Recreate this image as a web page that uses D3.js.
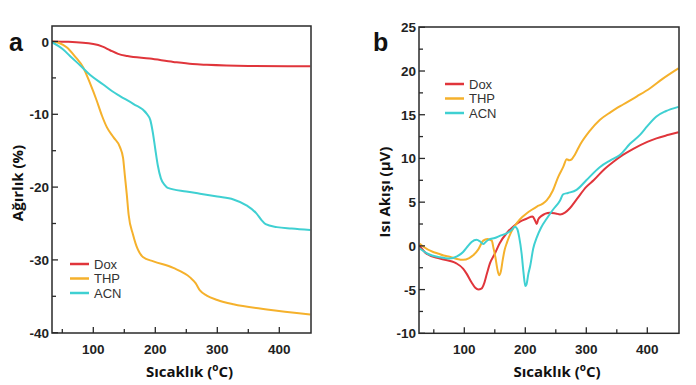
<!DOCTYPE html>
<html>
<head>
<meta charset="utf-8">
<script src="https://cdn.jsdelivr.net/npm/d3@7"></script>
<style>
  body { margin: 0; background: #fff; }
  text { font-family: "Liberation Sans", Arial, sans-serif; }
</style>
</head>
<body>
<div id="viz"></div>
<script>
let w = 696;
let h = 385;

// series names + colours
const names = ["Dox", "THP", "ACN"];
const colors = ["#e0353b", "#f5b12c", "#3fd0d2"];

// panel a: TGA, [temperature, weight %]
const tgaDox = [[33,0],[60,-0.05],[100,-0.35],[115,-0.7],[127,-1.2],[140,-1.7],[155,-2.0],[191,-2.35],[229,-2.8],[260,-3.1],[283,-3.2],[350,-3.35],[450,-3.4]];
const tgaTHP = [[33,0],[45,-0.2],[57,-0.8],[70,-2.0],[84,-3.6],[95,-5.8],[105,-8],[114,-10.2],[122,-11.8],[133,-13.2],[143,-14.5],[148,-16],[151,-18.5],[154,-21],[157,-23.8],[164,-26.5],[172,-28.6],[180,-29.6],[197,-30.2],[229,-31.1],[256,-32.4],[265,-33.2],[272,-34.2],[283,-34.9],[300,-35.5],[326,-36.1],[380,-36.8],[450,-37.5]];
const tgaACN = [[33,-0.1],[50,-1.0],[65,-2.2],[79,-3.3],[95,-4.6],[116,-5.9],[130,-6.8],[143,-7.5],[165,-8.6],[186,-9.9],[192,-10.8],[196,-12.5],[200,-14.8],[204,-17],[209,-18.8],[215,-19.7],[220,-20.1],[250,-20.6],[272,-20.9],[300,-21.3],[326,-21.7],[347,-22.5],[363,-23.6],[372,-24.6],[378,-25.1],[396,-25.5],[420,-25.7],[450,-25.9]];

// panel b: DSC, [temperature, heat flow uV]
const dscDox = [[27,0],[38,-0.9],[60,-1.45],[87,-2.0],[98,-2.6],[104,-3.2],[112,-4.2],[118,-4.8],[123,-5.0],[128,-4.9],[133,-4.2],[137,-3.2],[142,-2.0],[150,-0.9],[158,0.3],[170,1.5],[180,2.2],[192,2.8],[202,3.1],[212,3.35],[216,2.9],[218.7,2.5],[221,3.0],[226,3.4],[240,3.8],[250,3.7],[257,3.6],[265,3.8],[273,4.3],[285,5.4],[300,6.75],[312,7.5],[330,8.8],[344,9.6],[360,10.4],[377,11.1],[400,11.9],[415,12.3],[435,12.7],[451,13.0]];
const dscTHP = [[27,0.25],[33,-0.1],[49,-0.7],[58,-0.9],[66,-1.1],[76,-1.25],[88,-1.5],[98,-1.6],[108,-1.4],[115,-1.05],[123,-0.4],[131,0.6],[138,0.8],[145,0.6],[148,-0.3],[151,-1.3],[154,-2.6],[157,-3.35],[160,-2.9],[163,-1.6],[166,-0.5],[170,0.4],[177,1.6],[186,2.6],[195,3.3],[202,3.7],[210,4.1],[219,4.5],[228,4.8],[235,5.2],[245,6.3],[254,7.9],[262,9.0],[268,9.9],[272,9.8],[276,9.9],[281,10.4],[290,11.6],[305,13.1],[322,14.4],[340,15.3],[361,16.2],[383,17.1],[404,18.0],[425,19.1],[451,20.3]];
const dscACN = [[27,-0.3],[40,-0.9],[60,-1.3],[76,-1.45],[88,-1.2],[98,-0.7],[105,-0.1],[112,0.45],[120,0.7],[126,0.5],[131,0.2],[135,0.45],[140,0.7],[150,0.9],[160,1.2],[170,1.45],[178,1.85],[183,2.2],[187,1.9],[190,1.0],[194,-0.9],[197,-3.0],[200,-4.6],[202,-4.4],[205,-3.2],[208,-2.3],[213,-0.3],[219,1.0],[226,2.1],[235,3.1],[245,4.1],[257,5.2],[262,5.9],[270,6.05],[284,6.4],[300,7.5],[322,9.0],[340,9.8],[355,10.4],[372,11.7],[388,12.7],[400,13.7],[415,14.8],[430,15.4],[451,15.9]];

const xTicks = [100, 200, 300, 400];
const xMinor = [50, 150, 250, 350];
const yTicksA = [0, -10, -20, -30, -40];
const yMinorA = [-5, -15, -25, -35];
const yTicksB = [-10, -5, 0, 5, 10, 15, 20, 25];
const yMinorB = [-7.5, -2.5, 2.5, 7.5, 12.5, 17.5, 22.5];

let viz = d3.select("#viz").append("svg")
  .attr("width", w).attr("height", h)
  .style("background-color", "#ffffff");

function drawPanel(p) {
  let g = viz.append("g");
  let x = d3.scaleLinear().domain([100, 400]).range(p.xr);
  let y = d3.scaleLinear().domain(p.yd).range(p.yr);
  let left = p.box[0], top = p.box[1], right = p.box[2], bottom = p.box[3];

  // lines
  let line = d3.line().x(d => x(d[0])).y(d => y(d[1])).curve(d3.curveMonotoneX);
  g.append("defs").append("clipPath").attr("id", "clip" + p.id)
    .append("rect").attr("x", left).attr("y", top).attr("width", right - left).attr("height", bottom - top);
  let lg = g.append("g").attr("clip-path", `url(#clip${p.id})`);
  p.series.forEach((s, i) => {
    lg.append("path").attr("d", line(s))
      .attr("fill", "none").attr("stroke", colors[i]).attr("stroke-width", 2);
  });

  // frame
  g.append("rect").attr("x", left).attr("y", top)
    .attr("width", right - left).attr("height", bottom - top)
    .attr("fill", "none").attr("stroke", "#2a2a2a").attr("stroke-width", 1.5);

  // ticks (inward)
  xTicks.forEach(t => g.append("line").attr("x1", x(t)).attr("x2", x(t))
    .attr("y1", bottom).attr("y2", bottom - 6).attr("stroke", "#2a2a2a").attr("stroke-width", 1.3));
  xMinor.forEach(t => g.append("line").attr("x1", x(t)).attr("x2", x(t))
    .attr("y1", bottom).attr("y2", bottom - 4).attr("stroke", "#2a2a2a").attr("stroke-width", 1.3));
  p.yTicks.forEach(t => g.append("line").attr("x1", left).attr("x2", left + 6)
    .attr("y1", y(t)).attr("y2", y(t)).attr("stroke", "#2a2a2a").attr("stroke-width", 1.3));
  p.yMinor.forEach(t => g.append("line").attr("x1", left).attr("x2", left + 4)
    .attr("y1", y(t)).attr("y2", y(t)).attr("stroke", "#2a2a2a").attr("stroke-width", 1.3));

  // tick labels
  g.selectAll(".xl").data(xTicks).enter().append("text")
    .attr("x", d => x(d)).attr("y", 354)
    .attr("text-anchor", "middle").attr("font-size", 13.5).attr("font-weight", 700)
    .attr("fill", "#222").text(d => d);
  g.selectAll(".yl").data(p.yTicks).enter().append("text")
    .attr("x", left - 3).attr("y", d => y(d) + 5)
    .attr("text-anchor", "end").attr("font-size", 13.5).attr("font-weight", 700)
    .attr("fill", "#222").text(d => d);

  // panel letter
  g.append("text").attr("x", p.letterX).attr("y", 51)
    .attr("font-size", 25).attr("font-weight", 700).attr("fill", "#111").text(p.id);

  // axis titles
  let xt = g.append("text").attr("x", (left + right) / 2 + 8).attr("y", 377)
    .attr("text-anchor", "middle").attr("font-size", 15).attr("font-weight", 700)
    .style("font-family", "'Open Sans', sans-serif").attr("fill", "#111");
  xt.append("tspan").text("Sıcaklık (");
  xt.append("tspan").attr("dy", -6).attr("font-size", 10).text("o");
  xt.append("tspan").attr("dy", 6).text("C)");

  g.append("text")
    .attr("transform", `translate(${p.ytX},${p.ytY}) rotate(-90)`)
    .attr("text-anchor", "middle").attr("font-size", 15).attr("font-weight", 700)
    .style("font-family", "'Open Sans', sans-serif").attr("fill", "#111")
    .text(p.yTitle);

  // legend
  names.forEach((n, i) => {
    let ly = p.legY + i * 14.5;
    g.append("line").attr("x1", p.legX).attr("x2", p.legX + 19)
      .attr("y1", ly).attr("y2", ly).attr("stroke", colors[i]).attr("stroke-width", 2.5);
    g.append("text").attr("x", p.legX + 24).attr("y", ly + 4.5)
      .attr("font-size", 13).attr("fill", "#333")
      .style("font-family", "'Liberation Sans Narrow', 'Arial Narrow', 'Liberation Sans', sans-serif")
      .text(n);
  });
}

drawPanel({
  id: "a", xr: [93.3, 279.3], yd: [-40, 0], yr: [332.7, 41.5],
  box: [52, 26, 311, 333], series: [tgaDox, tgaTHP, tgaACN],
  yTicks: yTicksA, yMinor: yMinorA, letterX: 9,
  yTitle: "Ağırlık (%)", ytX: 23, ytY: 183,
  legX: 70, legY: 264
});

drawPanel({
  id: "b", xr: [464.3, 647.3], yd: [-10, 25], yr: [333.3, 27.3],
  box: [419, 27, 679, 333.3], series: [dscDox, dscTHP, dscACN],
  yTicks: yTicksB, yMinor: yMinorB, letterX: 373,
  yTitle: "Isı Akışı (μV)", ytX: 390, ytY: 192,
  legX: 445, legY: 84
});
</script>
</body>
</html>
